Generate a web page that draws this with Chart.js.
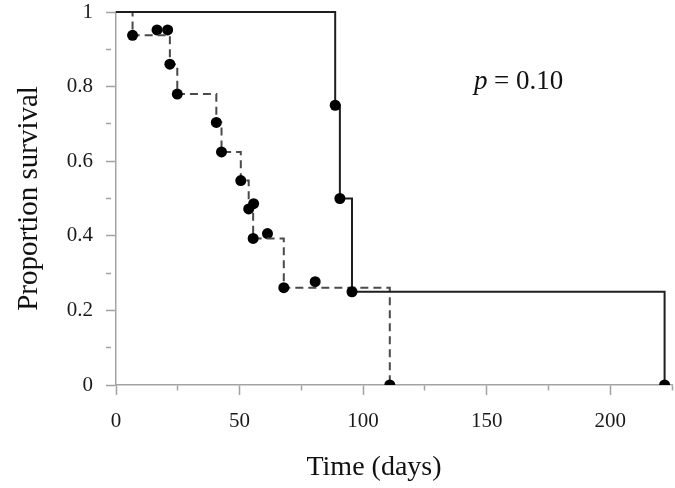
<!DOCTYPE html>
<html><head><meta charset="utf-8">
<script src="https://cdn.jsdelivr.net/npm/chart.js@4"></script>
<style>html,body{margin:0;padding:0;background:#fff}canvas{display:block}</style>
</head><body>
<canvas id="c" width="675" height="488"></canvas>
<script>
// Solid curve (group A)
const solidTimes = [0, 88.7, 90.6, 95.5, 222];
const solidSurvival = [1, 0.75, 0.5, 0.25, 0];
// Dashed curve (group B)
const dashedTimes = [0, 6.7, 21.8, 24.8, 40.6, 42.7, 50.5, 53.7, 55.5, 67.9, 110.8];
const dashedSurvival = [1, 0.9375, 0.86, 0.78, 0.704, 0.625, 0.548, 0.472, 0.393, 0.261, 0];
// Censored marks on dashed curve
const censoredTimes = [16.6, 20.9, 55.7, 61.3, 80.6];
const censoredSurvival = [0.952, 0.952, 0.486, 0.406, 0.277];
// Tick labels and texts
const xTickLabels = ['0', '50', '100', '150', '200'];
const yTickLabels = ['0', '0.2', '0.4', '0.6', '0.8', '1'];
const xTitle = 'Time (days)';
const yTitle = 'Proportion survival';
const pLabel = 'p';
const pValueText = '= 0.10';

const toXY = (xs, ys) => xs.map((x, i) => ({x: x, y: ys[i]}));
const SERIF = '"Liberation Serif", "Times New Roman", serif';
const AXIS_GRAY = '#a3a3a3';

const textPlugin = {
  id: 'texts',
  afterDraw(chart) {
    const ctx = chart.ctx;
    ctx.save();
    ctx.fillStyle = '#111';
    ctx.font = '28px ' + SERIF;
    ctx.textAlign = 'center';
    ctx.textBaseline = 'middle';
    ctx.fillText(xTitle, 374, 468);
    ctx.textAlign = 'left';
    ctx.textBaseline = 'alphabetic';
    ctx.font = 'italic 27px ' + SERIF;
    ctx.fillText(pLabel, 474, 89);
    ctx.font = '27px ' + SERIF;
    ctx.fillText(pValueText, 494, 89);
    ctx.restore();
  }
};

const clipArea = {left: 6, top: 6, right: 6, bottom: 0};

new Chart(document.getElementById('c'), {
  type: 'line',
  data: {
    datasets: [
      {
        data: toXY(solidTimes, solidSurvival),
        stepped: 'before',
        borderColor: '#1e1e1e',
        borderWidth: 2,
        pointRadius: c => c.dataIndex === 0 ? 0 : 5.5,
        pointBackgroundColor: '#000',
        pointBorderWidth: 0,
        fill: false,
        clip: clipArea
      },
      {
        data: toXY(dashedTimes, dashedSurvival),
        stepped: 'before',
        borderColor: '#4a4a4a',
        borderWidth: 2,
        borderDash: [8, 5],
        pointRadius: c => c.dataIndex === 0 ? 0 : 5.5,
        pointBackgroundColor: '#000',
        pointBorderWidth: 0,
        fill: false,
        clip: clipArea
      },
      {
        data: toXY(censoredTimes, censoredSurvival),
        showLine: false,
        pointRadius: 5.5,
        pointBackgroundColor: '#000',
        pointBorderWidth: 0,
        clip: clipArea
      }
    ]
  },
  options: {
    responsive: false,
    devicePixelRatio: 1,
    animation: false,
    events: [],
    layout: {autoPadding: false, padding: {top: 12, right: 3, left: 0, bottom: 0}},
    plugins: {legend: {display: false}, tooltip: {enabled: false}},
    scales: {
      x: {
        type: 'linear', position: 'bottom', min: 0, max: 225,
        afterFit: s => { s.height = 103; s.paddingLeft = 0; s.paddingRight = 0; },
        border: {color: AXIS_GRAY, width: 1.5},
        grid: {
          drawOnChartArea: false, drawTicks: true, tickLength: 10,
          tickColor: AXIS_GRAY, tickWidth: 1.5,
          tickBorderDash: c => (c.tick && Math.round(c.tick.value) % 50 !== 0) ? [5, 60] : []
        },
        ticks: {
          stepSize: 25, autoSkip: false, maxRotation: 0, padding: 14,
          color: '#1a1a1a', font: {family: SERIF, size: 21},
          callback: v => (Math.round(v) % 50 === 0) ? xTickLabels[Math.round(v) / 50] : ''
        }
      },
      y: {
        type: 'linear', min: 0, max: 1,
        afterFit: s => { s.width = 116; s.paddingTop = 0; s.paddingBottom = 0; },
        border: {color: AXIS_GRAY, width: 1.5},
        grid: {
          drawOnChartArea: false, drawTicks: true, tickLength: 10,
          tickColor: AXIS_GRAY, tickWidth: 1.5,
          tickBorderDash: c => (c.tick && Math.round(c.tick.value * 10) % 2 !== 0) ? [5, 60] : []
        },
        ticks: {
          stepSize: 0.1, autoSkip: false, padding: 13,
          color: '#1a1a1a', font: {family: SERIF, size: 21},
          callback: v => { const k = Math.round(v * 10); return k % 2 === 0 ? yTickLabels[k / 2] : ''; }
        },
        title: {
          display: true, text: yTitle, color: '#111',
          font: {family: SERIF, size: 29}, padding: {top: 12, bottom: 0}
        }
      }
    }
  },
  plugins: [textPlugin]
});
</script>
</body></html>
